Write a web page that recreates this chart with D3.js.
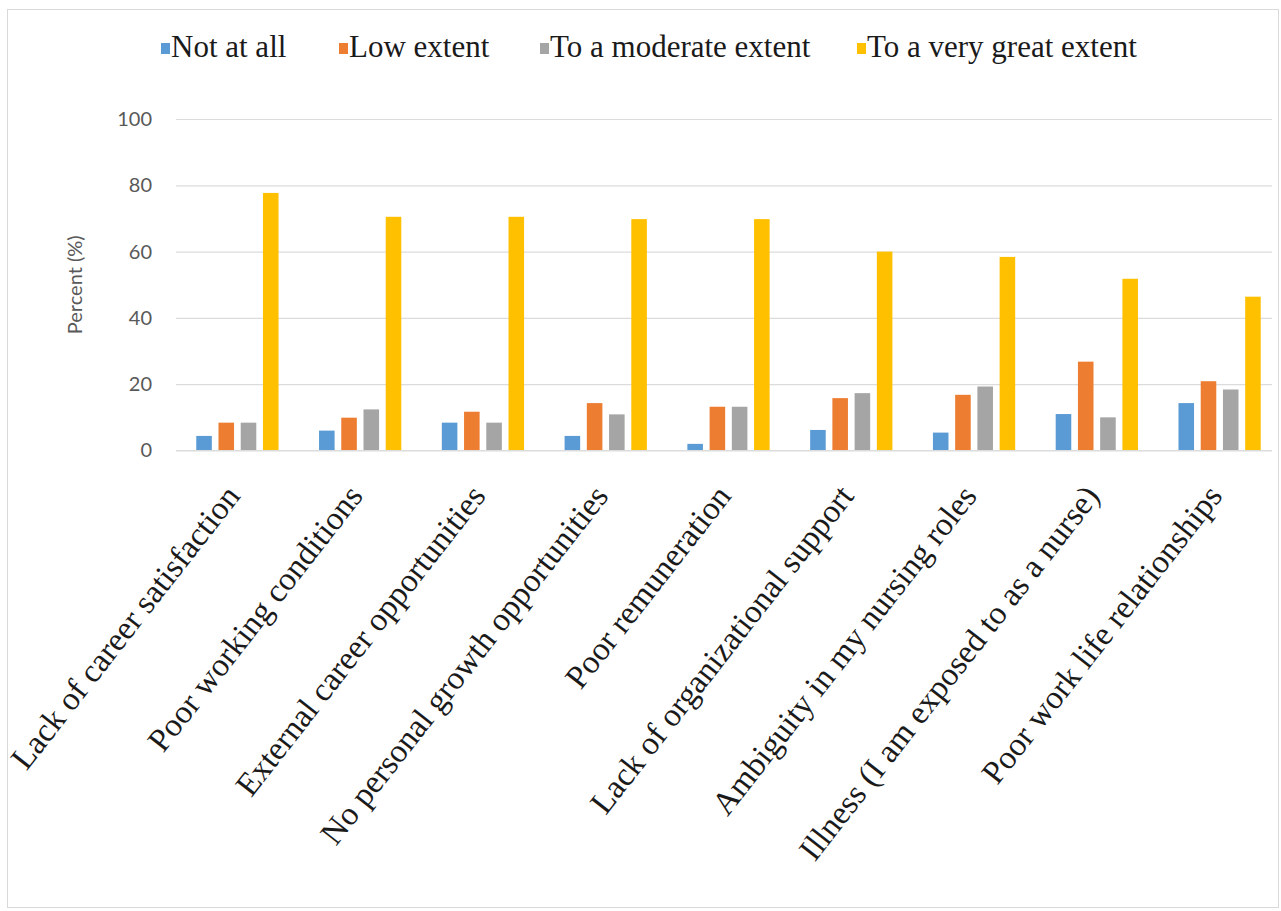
<!DOCTYPE html>
<html>
<head>
<meta charset="utf-8">
<script src="https://cdn.jsdelivr.net/npm/d3@7"></script>
<style>
  html, body { margin: 0; padding: 0; background: #fff; }
  svg { display: block; }
</style>
</head>
<body>
<svg id="chart" width="1281" height="911"></svg>
<script>
// Reasons for intention to leave, by extent of agreement (percent of respondents)
const categories = [
  "Lack of career satisfaction",
  "Poor working conditions",
  "External career opportunities",
  "No personal growth opportunities",
  "Poor remuneration",
  "Lack of organizational support",
  "Ambiguity in my nursing roles",
  "Illness (I am exposed to as a nurse)",
  "Poor work life relationships"
];
const seriesNames = ["Not at all", "Low extent", "To a moderate extent", "To a very great extent"];
const notAtAll      = [4.4, 6.0, 8.4, 4.4, 2.0, 6.2, 5.4, 11.0, 14.3];
const lowExtent     = [8.4, 9.9, 11.7, 14.3, 13.2, 15.8, 16.8, 26.8, 20.9];
const moderate      = [8.4, 12.4, 8.4, 10.9, 13.2, 17.3, 19.3, 10.0, 18.4];
const veryGreat     = [77.7, 70.5, 70.5, 69.8, 69.8, 60.0, 58.4, 51.8, 46.4];
const yTicks = [0, 20, 40, 60, 80, 100];
const colors = ["#5b9bd5", "#ed7d31", "#a5a5a5", "#ffc000"];

const seriesValues = [notAtAll, lowExtent, moderate, veryGreat];
const rows = categories.map((c, i) => ({
  category: c,
  values: seriesNames.map((s, k) => ({ series: s, value: seriesValues[k][i], color: colors[k] }))
}));

const svg = d3.select("#chart");

// outer chart frame
svg.append("rect")
  .attr("x", 7.5).attr("y", 9.5)
  .attr("width", 1271).attr("height", 898)
  .attr("fill", "#fff")
  .attr("stroke", "#d9d9d9")
  .attr("stroke-width", 1);

const plotLeft = 176, plotRight = 1272, plotTop = 119, plotBottom = 450.5;

const x0 = d3.scaleBand()
  .domain(categories)
  .range([plotLeft, 1281])
  .paddingInner(0.33)
  .paddingOuter(0.165);

const x1 = d3.scaleBand()
  .domain(seriesNames)
  .range([0, x0.bandwidth()])
  .paddingInner(0.3);

const y = d3.scaleLinear()
  .domain([0, 100])
  .range([plotBottom, plotTop]);

// horizontal gridlines
const yAxis = d3.axisLeft(y)
  .tickValues(yTicks)
  .tickSize(-(plotRight - plotLeft))
  .tickPadding(24);

const gy = svg.append("g")
  .attr("transform", `translate(${plotLeft},0)`)
  .call(yAxis);
gy.select(".domain").remove();
gy.selectAll(".tick line").attr("stroke", "#dcdcdc").attr("stroke-width", 1.2);
gy.selectAll(".tick text")
  .attr("fill", "#595959")
  .style("font-family", "Lato, 'Open Sans', sans-serif")
  .style("font-size", "20px");

// bars
const groups = svg.append("g")
  .selectAll("g")
  .data(rows)
  .join("g")
  .attr("transform", d => `translate(${x0(d.category)},0)`);

groups.selectAll("rect")
  .data(d => d.values)
  .join("rect")
  .attr("x", d => x1(d.series))
  .attr("width", x1.bandwidth())
  .attr("y", d => y(d.value))
  .attr("height", d => y(0) - y(d.value))
  .attr("fill", d => d.color);

// category labels, rotated
const xAxis = d3.axisBottom(x0).tickSize(0).tickPadding(0);
const gx = svg.append("g")
  .attr("transform", `translate(0,${plotBottom})`)
  .call(xAxis);
gx.select(".domain").attr("stroke", "#dcdcdc").attr("stroke-width", 1.2)
  .attr("d", `M${plotLeft},0H${plotRight}`);
gx.selectAll(".tick text")
  .attr("text-anchor", "end")
  .attr("dy", null)
  .attr("y", null)
  .attr("transform", "translate(4,46) rotate(-52)")
  .attr("fill", "#1a1a1a")
  .style("font-family", "'Liberation Serif', 'Times New Roman', serif")
  .style("font-size", "33px");

// y-axis title
svg.append("text")
  .attr("transform", `translate(82,${(plotTop + plotBottom) / 2}) rotate(-90)`)
  .attr("text-anchor", "middle")
  .attr("fill", "#595959")
  .style("font-family", "Lato, 'Open Sans', sans-serif")
  .style("font-size", "20px")
  .text("Percent (%)");

// legend
const legendX = [161, 339, 540, 857];
const legend = svg.append("g");
seriesNames.forEach((s, k) => {
  const g = legend.append("g").attr("transform", `translate(${legendX[k]},0)`);
  g.append("rect")
    .attr("x", 0).attr("y", 43)
    .attr("width", 9).attr("height", 11)
    .attr("fill", colors[k]);
  g.append("text")
    .attr("x", 10).attr("y", 57)
    .attr("fill", "#1a1a1a")
    .style("font-family", "'Liberation Serif', 'Times New Roman', serif")
    .style("font-size", "31px")
    .text(s);
});
</script>
</body>
</html>
